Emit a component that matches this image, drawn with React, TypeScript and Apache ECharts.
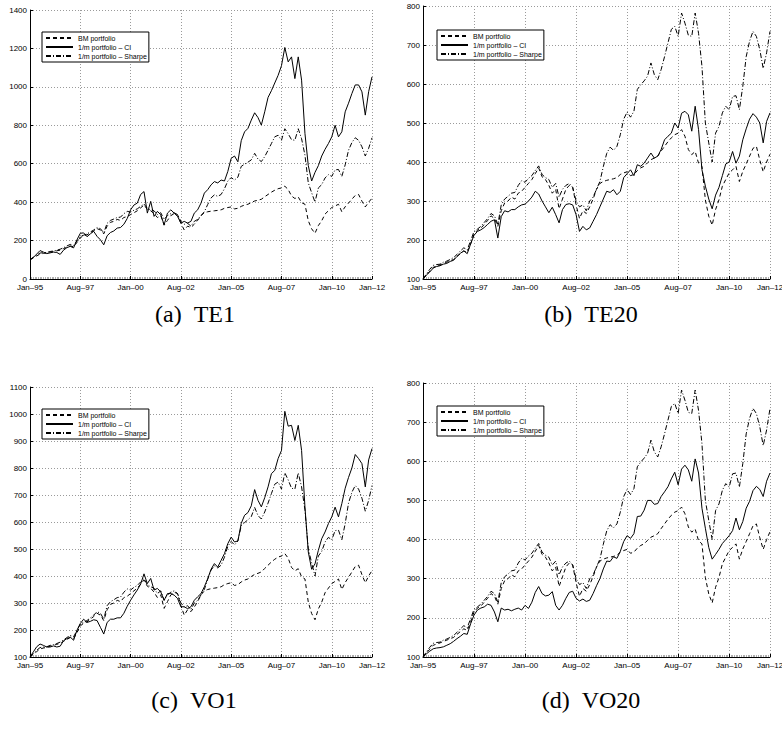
import React, { useEffect, useRef } from 'react';
import * as echarts from 'echarts';

// Sampling: one value every 2 months, starting Jan-95 (month index 0) to Jan-12 (month index 204)
const SAMPLE_STEP_MONTHS = 2;

const tickMonths = [0, 30, 60, 90, 120, 150, 180, 204];
const tickLabels = ['Jan–95', 'Aug–97', 'Jan–00', 'Aug–02', 'Jan–05', 'Aug–07', 'Jan–10', 'Jan–12'];

const seriesNames = ['BM portfolio', '1/m portfolio – CI', '1/m portfolio – Sharpe'];

// Benchmark portfolio (same in all panels)
const bmPortfolio = [
  100, 110, 120, 130, 133, 136, 140, 143, 147, 150,
  158, 165, 172, 168, 190, 215, 225, 230, 240, 250,
  262, 255, 235, 275, 295, 300, 310, 305, 320, 325,
  335, 345, 355, 370, 385, 362, 355, 340, 320, 330,
  280, 305, 330, 340, 335, 290, 255, 275, 268, 285,
  305, 330, 345, 350, 353, 355, 357, 360, 368, 372,
  375, 365, 368, 378, 385, 389, 398, 406, 410, 415,
  428, 440, 452, 462, 470, 474, 483, 466, 432, 419,
  427, 397, 389, 303, 261, 238, 278, 303, 338, 355,
  372, 380, 389, 350, 376, 395, 415, 435, 440, 405,
  375, 400, 420,
];

// 1/m portfolio - Sharpe (same in all panels)
const sharpePortfolio = [
  100, 113, 125, 135, 137, 138, 143, 146, 150, 155,
  163, 172, 180, 175, 198, 222, 228, 235, 245, 255,
  268, 262, 240, 290, 305, 312, 320, 322, 340, 352,
  348, 358, 365, 378, 390, 368, 360, 355, 335, 345,
  310, 330, 340, 345, 335, 300, 285, 290, 275, 300,
  310, 330, 350, 388, 422, 438, 430, 440, 470, 510,
  528, 515, 530, 586, 598, 608, 620, 654, 624, 611,
  637, 670, 705, 740, 748, 722, 782, 756, 725, 722,
  782, 730, 645, 500, 449, 400, 474, 491, 526, 543,
  534, 568, 570, 534, 594, 670, 710, 735, 722, 688,
  640, 680, 735,
];

// 1/m portfolio - CI, per panel
const ciTE1 = [
  100, 112, 130, 148, 140, 132, 136, 140, 138, 128,
  150, 163, 170, 162, 204, 238, 240, 220, 235, 248,
  222, 204, 178, 225, 242, 250, 265, 268, 285, 315,
  360, 385, 395, 440, 455, 343, 404, 326, 352, 334,
  282, 343, 360, 343, 326, 291, 300, 291, 300, 343,
  360, 395, 447, 465, 490, 507, 500, 515, 510, 560,
  628, 640, 610, 720, 766, 784, 827, 865, 840, 801,
  870, 945, 980, 1020, 1060, 1110, 1205, 1130, 1156, 1043,
  1156, 1035, 758, 590, 510, 555, 590, 640, 675, 705,
  740, 800, 740, 766, 870, 915, 965, 1010, 1010, 974,
  853, 975, 1052,
];

const ciTE20 = [
  100, 110, 118, 128, 132, 134, 138, 140, 145, 148,
  158, 166, 172, 165, 190, 212, 222, 226, 232, 240,
  248, 252, 205, 260, 275, 272, 278, 278, 285, 290,
  292, 300, 310, 325, 318, 300, 285, 270, 284, 265,
  244, 278, 291, 293, 290, 265, 222, 235, 226, 231,
  248, 265, 285, 305, 325, 322, 329, 316, 325, 360,
  370, 380, 365, 393, 389, 397, 410, 423, 410, 415,
  432, 457, 466, 474, 500, 487, 525, 530, 521, 479,
  543, 483, 380, 338, 305, 280, 315, 335, 365, 395,
  400, 427, 397, 415, 457, 485, 510, 524, 515, 500,
  449, 504, 526,
];

const ciVO1 = [
  100, 119, 138, 148, 143, 137, 137, 141, 137, 140,
  160, 168, 174, 162, 199, 224, 240, 228, 232, 238,
  235, 210, 185, 228, 240, 240, 245, 245, 262, 288,
  310, 330, 348, 370, 408, 372, 391, 348, 354, 341,
  310, 335, 335, 329, 317, 286, 286, 279, 286, 310,
  323, 335, 360, 390, 425, 446, 433, 458, 483, 520,
  544, 526, 530, 595, 625, 635, 660, 720, 680, 656,
  690, 730, 779, 791, 835, 865, 1010, 955, 958, 902,
  958, 865, 656, 489, 425, 445, 495, 538, 563, 594,
  619, 655, 619, 668, 725, 765, 800, 850, 835, 816,
  730, 830, 872,
];

const ciVO20 = [
  100, 108, 115, 121, 123, 124, 126, 130, 134, 140,
  147, 153, 160, 158, 185, 207, 220, 225, 228, 235,
  232, 215, 190, 225, 220, 222, 218, 222, 225, 220,
  232, 224, 240, 265, 280, 262, 256, 258, 267, 232,
  220, 232, 250, 265, 268, 250, 243, 248, 242, 245,
  262, 282, 300, 325, 345, 344, 356, 352, 370, 395,
  410, 403, 415, 459, 460, 475, 500, 500, 490, 492,
  510, 522, 535, 555, 572, 540, 580, 590, 578, 549,
  606, 570, 480, 429, 380, 350, 362, 375, 390, 400,
  410, 423, 455, 425, 446, 480, 498, 525, 536, 528,
  510, 549, 570,
];

const panels = [
  { caption: '(a)\u2002TE1', ci: ciTE1, yMin: 0, yMax: 1400, yStep: 200,
    grid: { left: 30, top: 10, width: 342, height: 269 }, legendPos: { left: 42, top: 32 }, capPos: [195, 314] },
  { caption: '(b)\u2002TE20', ci: ciTE20, yMin: 100, yMax: 800, yStep: 100,
    grid: { left: 423, top: 6, width: 347, height: 273 }, legendPos: { left: 437, top: 30 }, capPos: [591, 314] },
  { caption: '(c)\u2002VO1', ci: ciVO1, yMin: 100, yMax: 1100, yStep: 100,
    grid: { left: 30, top: 387, width: 342, height: 270 }, legendPos: { left: 42, top: 409 }, capPos: [194, 700] },
  { caption: '(d)\u2002VO20', ci: ciVO20, yMin: 100, yMax: 800, yStep: 100,
    grid: { left: 423, top: 383, width: 347, height: 274 }, legendPos: { left: 437, top: 406 }, capPos: [591, 700] },
];

const toPoints = (vals: number[]) => vals.map((v, i) => [i * SAMPLE_STEP_MONTHS, v]);

const FONT = 'Liberation Sans, Arial, Helvetica, sans-serif';
const gridLine = { show: true, lineStyle: { color: '#9a9a9a', width: 1, type: [1, 2] as any } };

export default function App() {
  const ref = useRef<HTMLDivElement>(null);
  useEffect(() => {
    if (!ref.current) return;
    const chart = echarts.init(ref.current, undefined, { renderer: 'svg' });
    const labelFor = (v: number) => {
      const idx = tickMonths.indexOf(Math.round(v));
      return idx >= 0 ? tickLabels[idx] : '';
    };
    const lineStyles = [
      { color: '#000', width: 1, type: [4, 3] },
      { color: '#000', width: 1, type: 'solid' },
      { color: '#000', width: 1, type: [5, 2, 1, 2] },
    ];
    const option: any = {
      animation: false,
      backgroundColor: '#fff',
      grid: panels.map((p) => ({ ...p.grid, containLabel: false, outerBoundsMode: 'none' })),
      xAxis: panels.map((p, i) => ({
        type: 'value', gridIndex: i, min: 0, max: 204, interval: 30,
        axisLine: { show: true, onZero: false, lineStyle: { color: '#000', width: 1 } },
        axisTick: { show: true, inside: true, length: 3, lineStyle: { color: '#000' } },
        minorTick: { show: true, splitNumber: 30, length: 2, lineStyle: { color: '#777', width: 0.6 } },
        axisLabel: { formatter: labelFor, fontSize: 8, fontFamily: FONT, color: '#000', margin: 4, showMinLabel: true, showMaxLabel: true },
        splitLine: gridLine,
      })),
      yAxis: panels.map((p, i) => ({
        type: 'value', gridIndex: i, min: p.yMin, max: p.yMax, interval: p.yStep,
        axisLine: { show: true, lineStyle: { color: '#000', width: 1 } },
        axisTick: { show: true, inside: true, length: 3, lineStyle: { color: '#000' } },
        axisLabel: { fontSize: 8, fontFamily: FONT, color: '#000', margin: 3, formatter: (v: number) => String(v) },
        splitLine: gridLine,
      })),
      legend: panels.map((p) => ({
        left: p.legendPos.left, top: p.legendPos.top, orient: 'vertical',
        data: seriesNames, selectedMode: false,
        backgroundColor: '#fff', borderColor: '#000', borderWidth: 1,
        padding: [2, 2, 2, 3], itemGap: 1, itemWidth: 27, itemHeight: 10,
        textStyle: { fontSize: 7, fontFamily: FONT, color: '#000' },
      })),
      series: panels.flatMap((p, i) => {
        const dataSets = [bmPortfolio, p.ci, sharpePortfolio];
        return dataSets.map((d, k) => ({
          type: 'line', name: seriesNames[k], xAxisIndex: i, yAxisIndex: i,
          data: toPoints(d), symbol: 'none', showSymbol: false,
          lineStyle: lineStyles[k], itemStyle: { color: 'rgba(0,0,0,0)', borderWidth: 0 }, z: k === 1 ? 3 : 2,
        }));
      }),
      graphic: panels.map((p) => ({
        type: 'text', x: p.capPos[0], y: p.capPos[1],
        style: {
          text: p.caption, fill: '#000', font: '24px "Liberation Serif", "DejaVu Serif", serif',
          textAlign: 'center', textVerticalAlign: 'middle', align: 'center', verticalAlign: 'middle',
        },
      })),
    };
    chart.setOption(option);
    return () => chart.dispose();
  }, []);
  return <div ref={ref} style={{ position: 'absolute', left: 0, top: 0, width: 782, height: 731 }} />;
}
